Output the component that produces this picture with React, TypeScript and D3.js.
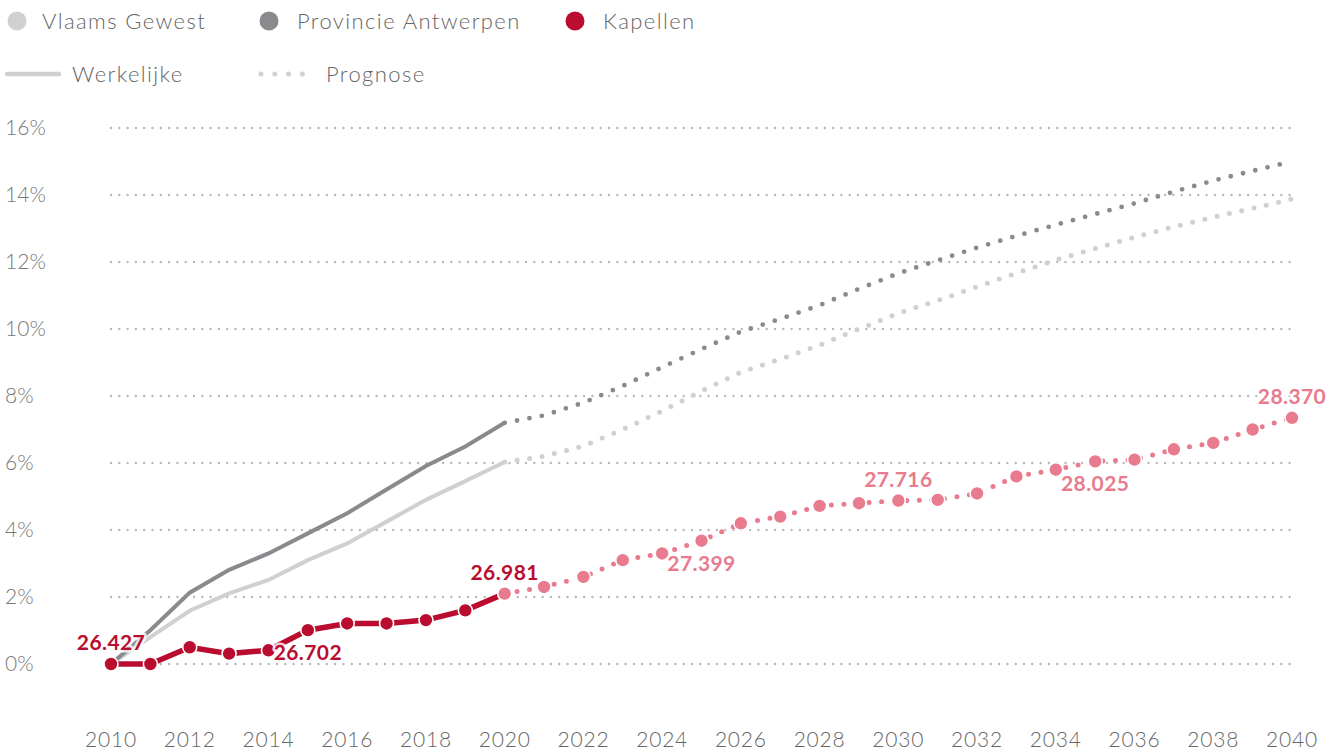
import React from "react";
import * as d3 from "d3";

const actualYears = [2010, 2011, 2012, 2013, 2014, 2015, 2016, 2017, 2018, 2019, 2020];
const forecastYears = [2020, 2021, 2022, 2023, 2024, 2025, 2026, 2027, 2028, 2029, 2030, 2031, 2032, 2033, 2034, 2035, 2036, 2037, 2038, 2039, 2040];

const vlaamsActual = [0, 0.8, 1.59, 2.11, 2.51, 3.1, 3.6, 4.25, 4.9, 5.46, 6.03];
const vlaamsForecast = [6.03, 6.2, 6.51, 7.0, 7.55, 8.15, 8.71, 9.1, 9.52, 10.0, 10.47, 10.85, 11.26, 11.67, 12.06, 12.4, 12.74, 13.05, 13.34, 13.6, 13.88];

const antwerpenActual = [0, 1.01, 2.13, 2.81, 3.3, 3.9, 4.5, 5.21, 5.91, 6.49, 7.2];
const antwerpenForecast = [7.2, 7.42, 7.8, 8.3, 8.86, 9.4, 9.92, 10.3, 10.71, 11.2, 11.66, 12.05, 12.43, 12.78, 13.11, 13.43, 13.75, 14.1, 14.43, 14.72, 15.0];

const kapellenActual = [0, 0, 0.5, 0.31, 0.41, 1.01, 1.21, 1.21, 1.31, 1.6, 2.1];
const kapellenForecast = [2.1, 2.3, 2.6, 3.1, 3.3, 3.68, 4.2, 4.4, 4.72, 4.8, 4.88, 4.9, 5.09, 5.6, 5.8, 6.05, 6.1, 6.41, 6.6, 7.0, 7.35];

const valueLabels = [
  { year: 2010, text: "26.427", pos: "above", forecast: false },
  { year: 2015, text: "26.702", pos: "below", forecast: false },
  { year: 2020, text: "26.981", pos: "above", forecast: false },
  { year: 2025, text: "27.399", pos: "below", forecast: true },
  { year: 2030, text: "27.716", pos: "above", forecast: true },
  { year: 2035, text: "28.025", pos: "below", forecast: true },
  { year: 2040, text: "28.370", pos: "above", forecast: true },
];

const yTicks = [0, 2, 4, 6, 8, 10, 12, 14, 16];
const xTicks = [2010, 2012, 2014, 2016, 2018, 2020, 2022, 2024, 2026, 2028, 2030, 2032, 2034, 2036, 2038, 2040];

const legendSeries = [
  { name: "Vlaams Gewest", color: "#d0d0d0", cx: 17, tx: 42 },
  { name: "Provincie Antwerpen", color: "#898a8d", cx: 269, tx: 297 },
  { name: "Kapellen", color: "#ba0c2f", cx: 575, tx: 603 },
];

const RED = "#ba0c2f";
const PINK = "#e87b8e";
const DARK = "#898a8d";
const LIGHT = "#d0d0d0";
const FONT = "Lato, 'Open Sans', sans-serif";

export default function App() {
  const W = 1341;
  const H = 752;
  const x = d3.scaleLinear().domain([2010, 2040]).range([111, 1292]);
  const y = d3.scaleLinear().domain([0, 16]).range([664, 128]);

  const line = d3
    .line<[number, number]>()
    .x((d) => x(d[0]))
    .y((d) => y(d[1]))
    .curve(d3.curveLinear);

  const zip = (years: number[], vals: number[]) => years.map((yr, i) => [yr, vals[i]] as [number, number]);

  const vA = zip(actualYears, vlaamsActual);
  const vF = zip(forecastYears, vlaamsForecast);
  const aA = zip(actualYears, antwerpenActual);
  const aF = zip(forecastYears, antwerpenForecast);
  const kA = zip(actualYears, kapellenActual);
  const kF = zip(forecastYears, kapellenForecast);

  const valueOf = (yr: number) => {
    const i = actualYears.indexOf(yr);
    if (i >= 0 && yr < 2020) return kapellenActual[i];
    return kapellenForecast[forecastYears.indexOf(yr)];
  };

  return (
    <svg width={W} height={H} style={{ display: "block", position: "absolute", left: 0, top: 0 }} fontFamily={FONT}>
      <rect width={W} height={H} fill="#fff" />
      {/* legend */}
      {legendSeries.map((s) => (
        <g key={s.name}>
          <circle cx={s.cx} cy={21} r={9.5} fill={s.color} />
          <text x={s.tx} y={21} dy="0.35em" fontSize={22} fontWeight={300} fill="#666" letterSpacing={1.4}>
            {s.name}
          </text>
        </g>
      ))}
      <line x1={7} x2={59} y1={74} y2={74} stroke={LIGHT} strokeWidth={4.5} strokeLinecap="round" />
      <text x={72} y={74} dy="0.35em" fontSize={22} fontWeight={300} fill="#666" letterSpacing={1.4}>
        Werkelijke
      </text>
      <line x1={261} x2={303} y1={74} y2={74} stroke={LIGHT} strokeWidth={5} strokeLinecap="round" strokeDasharray="0 13.8" />
      <text x={326} y={74} dy="0.35em" fontSize={22} fontWeight={300} fill="#666" letterSpacing={1.4}>
        Prognose
      </text>

      {/* grid */}
      {yTicks.map((t) => (
        <g key={t}>
          <line x1={111} x2={1290} y1={y(t)} y2={y(t)} stroke="#b8b8b8" strokeWidth={2.4} strokeLinecap="round" strokeDasharray="0 8.3" />
          <text x={5} y={y(t)} dy="0.35em" fontSize={21} fontWeight={300} fill="#777">
            {t}%
          </text>
        </g>
      ))}
      {xTicks.map((t) => (
        <text key={t} x={x(t)} y={740} dy="0.35em" textAnchor="middle" fontSize={21} fontWeight={300} fill="#666" letterSpacing={0.8}>
          {t}
        </text>
      ))}

      {/* gray series */}
      <path d={line(vF) || ""} fill="none" stroke={LIGHT} strokeWidth={5} strokeLinecap="round" strokeDasharray="0 12.6" />
      <path d={line(aF) || ""} fill="none" stroke={DARK} strokeWidth={4.8} strokeLinecap="round" strokeDasharray="0 12.6" />
      <path d={line(vA) || ""} fill="none" stroke={LIGHT} strokeWidth={4} strokeLinecap="round" />
      <path d={line(aA) || ""} fill="none" stroke={DARK} strokeWidth={4} strokeLinecap="round" />

      {/* Kapellen */}
      <path d={line(kF) || ""} fill="none" stroke={PINK} strokeWidth={5} strokeLinecap="round" strokeDasharray="0 12.6" />
      <path d={line(kA) || ""} fill="none" stroke={RED} strokeWidth={5.5} />
      {kA.slice(0, -1).map((d) => (
        <circle key={"a" + d[0]} cx={x(d[0])} cy={y(d[1])} r={7} fill={RED} stroke="#fff" strokeWidth={1.6} />
      ))}
      {kF.map((d) => (
        <circle key={"f" + d[0]} cx={x(d[0])} cy={y(d[1])} r={7} fill={PINK} stroke="#fff" strokeWidth={1.6} />
      ))}

      {/* value labels */}
      {valueLabels.map((l) => {
        const v = valueOf(l.year);
        const yy = l.pos === "above" ? y(v) - 14 : y(v) + 30;
        return (
          <text
            key={l.text}
            x={x(l.year)}
            y={yy}
            textAnchor="middle"
            fontSize={21}
            fontWeight={700}
            fill={l.forecast ? PINK : RED}
            stroke="#fff"
            strokeOpacity={0.8}
            strokeWidth={5}
            strokeLinejoin="round"
            letterSpacing={0.4}
            style={{ paintOrder: "stroke" }}
          >
            {l.text}
          </text>
        );
      })}
    </svg>
  );
}
